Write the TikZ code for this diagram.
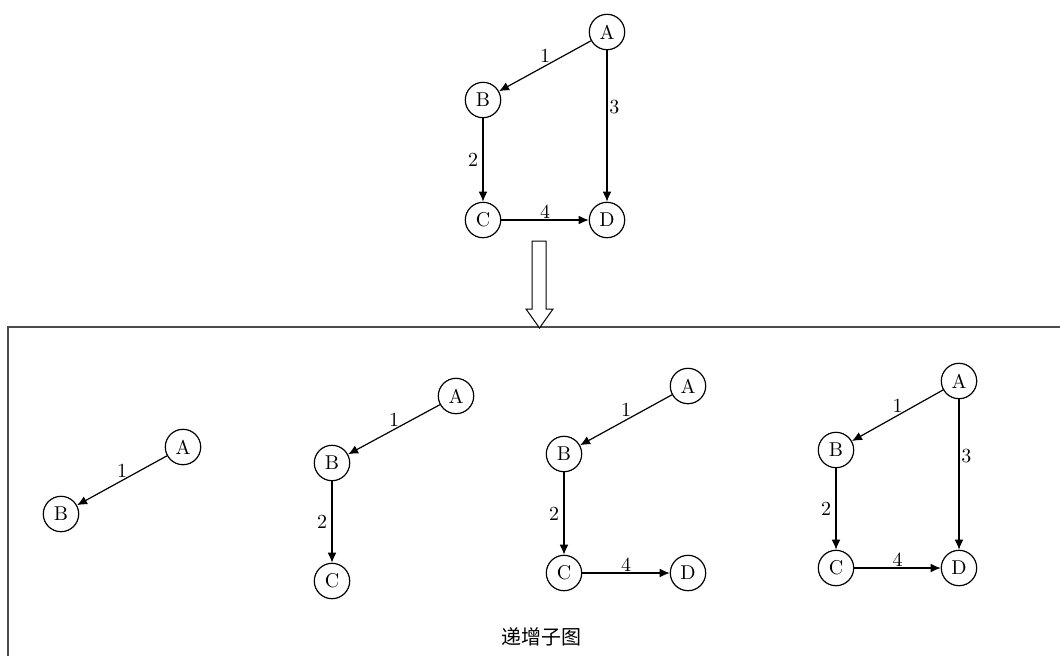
\documentclass[tikz,border=0pt]{standalone}
\usepackage{fontspec}
\newfontfamily\cjk{Noto Sans CJK SC}
\usetikzlibrary{arrows.meta}
\begin{document}
\begin{tikzpicture}[x=0.5pt,y=-0.5pt,
  vtx/.style={circle,draw,line width=0.6pt,minimum size=17.7pt,inner sep=0pt,font=\fontsize{10}{12}\selectfont},
  edg/.style={-{Latex[length=5pt,width=4.4pt]},line width=0.6pt},
  lab/.style={inner sep=0pt,font=\fontsize{10}{12}\selectfont},
  frame/.style={draw=black!70,line width=1pt},
  hollow/.style={draw,fill=white,line width=0.5pt,line join=miter}]
\useasboundingbox (0,0) rectangle (1060,655);
\clip (0,0) rectangle (1060,655);
% top graph
\node[vtx] (A0) at (607,32) {A};
\node[vtx] (B0) at (483,100) {B};
\node[vtx] (C0) at (483,220) {C};
\node[vtx] (D0) at (607,220) {D};
\draw[edg] (A0) -- node[lab,midway,yshift=5pt] {1} (B0);
\draw[edg] (B0) -- node[lab,midway,xshift=-5pt] {2} (C0);
\draw[edg] (A0) -- node[lab,pos=0.375,xshift=3.7pt] {3} (D0);
\draw[edg] (C0) -- node[lab,midway,yshift=4.2pt] {4} (D0);
% frame
\coordinate (f1) at (8,700);
\coordinate (f2) at (8,327);
\coordinate (f3) at (1100,327);
\draw[frame] (f1) -- (f2) -- (f3);
% hollow arrow
\draw[hollow] (532,241) -- (546,241) -- (546,309) -- (553,309) -- (539.5,328) -- (526,309) -- (532,309) -- cycle;
% subgraph 1
\node[vtx] (A1) at (183,447) {A};
\node[vtx] (B1) at (61,514) {B};
\draw[edg] (A1) -- node[lab,midway,yshift=5pt] {1} (B1);
% subgraph 2
\node[vtx] (A2) at (456,396) {A};
\node[vtx] (B2) at (332,463) {B};
\node[vtx] (C2) at (332,581) {C};
\draw[edg] (A2) -- node[lab,midway,yshift=5pt] {1} (B2);
\draw[edg] (B2) -- node[lab,midway,xshift=-5pt] {2} (C2);
% subgraph 3
\node[vtx] (A3) at (688,386) {A};
\node[vtx] (B3) at (564,454) {B};
\node[vtx] (C3) at (564,573) {C};
\node[vtx] (D3) at (688,573) {D};
\draw[edg] (A3) -- node[lab,midway,yshift=5pt] {1} (B3);
\draw[edg] (B3) -- node[lab,midway,xshift=-5pt] {2} (C3);
\draw[edg] (C3) -- node[lab,midway,yshift=4.2pt] {4} (D3);
% subgraph 4
\node[vtx] (A4) at (959,381) {A};
\node[vtx] (B4) at (836,450) {B};
\node[vtx] (C4) at (836,568) {C};
\node[vtx] (D4) at (959,568) {D};
\draw[edg] (A4) -- node[lab,midway,yshift=5pt] {1} (B4);
\draw[edg] (B4) -- node[lab,midway,xshift=-5pt] {2} (C4);
\draw[edg] (A4) -- node[lab,pos=0.375,xshift=3.7pt] {3} (D4);
\draw[edg] (C4) -- node[lab,midway,yshift=4.2pt] {4} (D4);
% caption
\node[inner sep=0pt,font=\cjk\fontsize{10}{12}\selectfont] (cap) at (541,637) {递增子图};
\end{tikzpicture}
\end{document}
